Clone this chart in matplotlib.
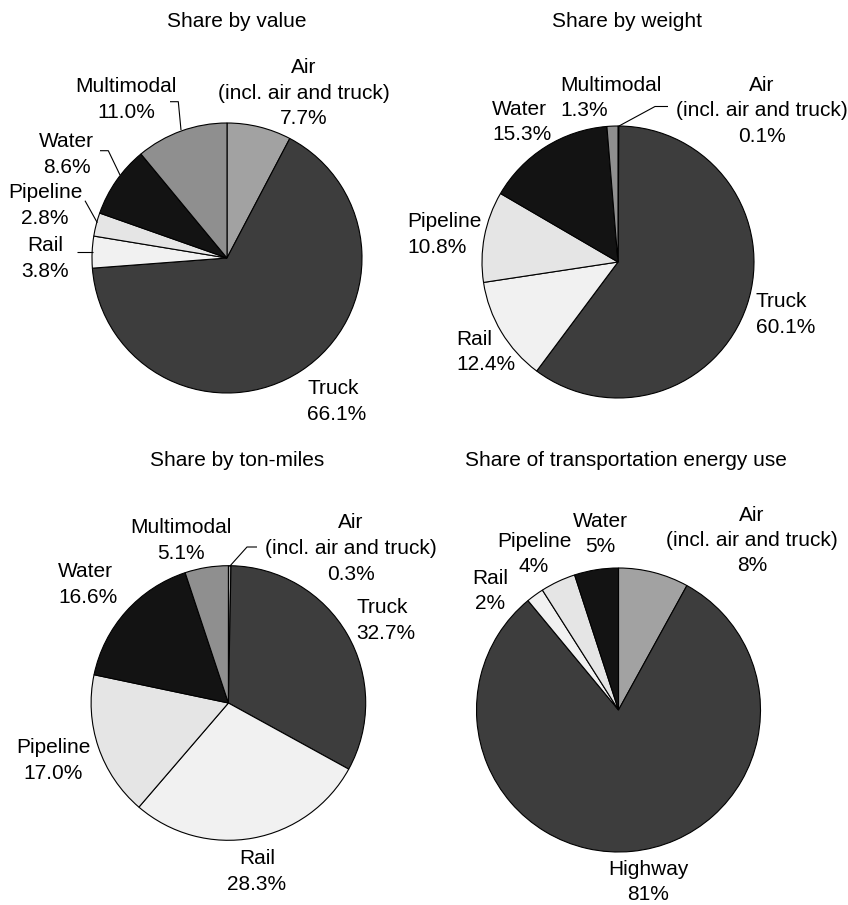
import matplotlib.pyplot as plt

W, H = 848, 905
plt.rcParams['font.family'] = ['Liberation Sans', 'DejaVu Sans']

# Freight mode shares (%), clockwise from 12 o'clock
modes = ['Air', 'Truck', 'Rail', 'Pipeline', 'Water', 'Multimodal']
share_value = [7.7, 66.1, 3.8, 2.8, 8.6, 11.0]
share_weight = [0.1, 60.1, 12.4, 10.8, 15.3, 1.3]
share_tonmiles = [0.3, 32.7, 28.3, 17.0, 16.6, 5.1]

# Transportation energy use (%)
energy_modes = ['Air', 'Highway', 'Rail', 'Pipeline', 'Water']
share_energy = [8, 81, 2, 4, 5]

air_name = ['Air', '(incl. air and truck)']

grays = {'Air': '#a2a2a2', 'Truck': '#3d3d3d', 'Highway': '#3d3d3d',
         'Rail': '#f1f1f1', 'Pipeline': '#e5e5e5', 'Water': '#131313',
         'Multimodal': '#8f8f8f'}

fig = plt.figure(figsize=(W / 100, H / 100), dpi=100)
ax = fig.add_axes([0, 0, 1, 1])


def pie(values, names, cx, cy, r):
    ax.pie(values, colors=[grays[n] for n in names], center=(cx, H - cy),
           radius=r, startangle=90, counterclock=False,
           wedgeprops=dict(edgecolor='black', linewidth=0.8))


def labels(values, names, fmt, pos, step=25.8):
    for name, v in zip(names, values):
        x, y, ha = pos[name]
        lines = (air_name if name == 'Air' else [name]) + [fmt.format(v)]
        for i, s in enumerate(lines):
            ax.text(x, H - (y + 7.3 + step * i), s, ha=ha, va='baseline',
                    fontsize=15)


def leader(xs, ys):
    ax.plot(xs, [H - y for y in ys], color='black', lw=0.8,
            solid_capstyle='butt')


def title(x, y, s):
    ax.text(x, H - y, s, ha='center', va='baseline', fontsize=15)


# Share by value
title(237, 27, 'Share by value')
pie(share_value, modes, 227, 258, 135)
labels(share_value, modes, '{:.1f}%', {
    'Air': (304, 65.5, 'center'),
    'Truck': (307, 386.5, 'left'),
    'Rail': (45, 243.5, 'center'),
    'Pipeline': (45, 190.5, 'center'),
    'Water': (66.5, 139.5, 'center'),
    'Multimodal': (126, 84.5, 'center')})
leader([170, 178.3, 181], [101.7, 101.7, 130])
leader([100, 108.3, 120], [150.7, 150.7, 175])
leader([85, 97.3], [200.7, 222.7])
leader([77.3, 92.7], [251.7, 251.7])

# Share by weight
title(626.5, 27, 'Share by weight')
pie(share_weight, modes, 618, 262, 136)
labels(share_weight, modes, '{:.1f}%', {
    'Air': (762, 83.3, 'center'),
    'Truck': (756, 300, 'left'),
    'Rail': (456, 337.3, 'left'),
    'Pipeline': (407.5, 220, 'left'),
    'Water': (492, 107.3, 'left'),
    'Multimodal': (560.7, 83.3, 'left')})
leader([668, 655, 619], [106.5, 106.5, 126])

# Share by ton-miles
title(237, 466, 'Share by ton-miles')
pie(share_tonmiles, modes, 228.4, 703, 137.3)
labels(share_tonmiles, modes, '{:.1f}%', {
    'Air': (351, 521, 'center'),
    'Truck': (356.5, 606, 'left'),
    'Rail': (257, 856.7, 'center'),
    'Pipeline': (53.5, 746, 'center'),
    'Water': (58.3, 570, 'left'),
    'Multimodal': (181, 526, 'center')})
leader([257, 247, 229.5], [547, 547, 566.5])

# Share of transportation energy use
title(626, 466.5, 'Share of transportation energy use')
pie(share_energy, energy_modes, 618.5, 710, 142)
labels(share_energy, energy_modes, '{:.0f}%', {
    'Air': (752, 514, 'center'),
    'Highway': (648.3, 868, 'center'),
    'Rail': (490, 576.7, 'center'),
    'Pipeline': (534, 539.3, 'center'),
    'Water': (600, 519.3, 'center')}, step=25)

ax.set_xlim(0, W)
ax.set_ylim(0, H)
ax.set_aspect('auto')
ax.axis('off')

fig.savefig('out.png', dpi=100)
